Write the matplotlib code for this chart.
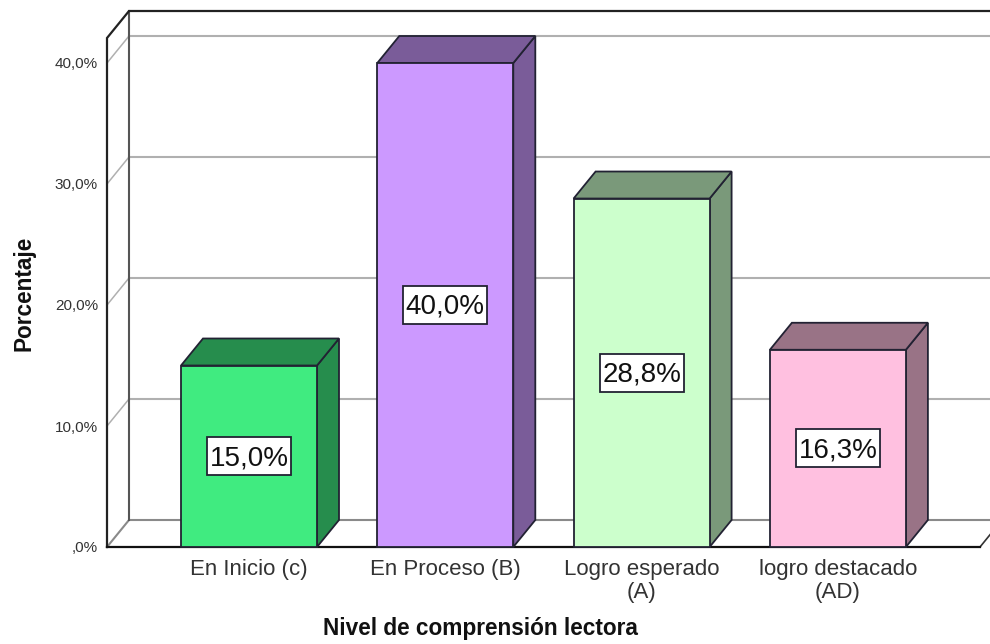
import matplotlib
matplotlib.use("Agg")
import matplotlib.pyplot as plt
from matplotlib.patches import Polygon, Rectangle

plt.rcParams['font.family'] = ['Liberation Sans', 'DejaVu Sans']

categories = ["En Inicio (c)", "En Proceso (B)", "Logro esperado\n(A)", "logro destacado\n(AD)"]
values = [15.0, 40.0, 28.8, 16.3]
value_labels = ["15,0%", "40,0%", "28,8%", "16,3%"]
y_ticks = [0, 10, 20, 30, 40]
y_tick_labels = [",0%", "10,0%", "20,0%", "30,0%", "40,0%"]
front_colors = ["#40EB80", "#CC99FF", "#CCFFCC", "#FFC0E0"]
side_colors = ["#268D4D", "#7A5C99", "#7A997A", "#997386"]

W, H = 990, 644
fig = plt.figure(figsize=(W / 100, H / 100), dpi=100, facecolor="white")
L, B, T = 107, 547, 38
ax = fig.add_axes([L / W, (H - B) / H, (W - L) / W, (B - T) / H])

STEP = 196.3
PX_PER_PCT = 12.1
ax.set_xlim((L - 249) / STEP, (W - 249) / STEP)
ax.set_ylim(0, (B - T) / PX_PER_PCT)
x0, x1 = ax.get_xlim()
y1 = ax.get_ylim()[1]
DX = 22 / STEP
DY = 27 / PX_PER_PCT
BAR_W = 136 / STEP
X_END = (980 - 249) / STEP
BOX_W = 84 / STEP
BOX_H = 38 / PX_PER_PCT

for s in ax.spines.values():
    s.set_visible(False)
ax.patch.set_alpha(0)

GRID = "#B0B0B0"
# back wall gridlines and left wall diagonals
for t in y_ticks[1:]:
    ax.plot([x0 + DX, x1], [t + DY, t + DY], color=GRID, lw=1.5, zorder=1, clip_on=False)
    ax.plot([x0, x0 + DX], [t, t + DY], color=GRID, lw=1.1, zorder=1, clip_on=False)
# floor and back wall frame
ax.plot([x0, x0 + DX, x1], [0, DY, DY], color="#8A8A8A", lw=1.5, zorder=1.5, clip_on=False)
ax.plot([x0 + DX, x0 + DX], [DY, y1 + DY], color="#555555", lw=1.5, zorder=1.5, clip_on=False)
ax.plot([X_END, X_END + DX], [0, DY], color="#333333", lw=1.2, zorder=1.5, clip_on=False)
# outer frame
ax.plot([x0, x0, x0 + DX, x1], [0, y1, y1 + DY, y1 + DY], color="#222222", lw=1.6, zorder=2,
        clip_on=False, solid_joinstyle="miter")
ax.plot([x0, X_END], [0, 0], color="#111111", lw=1.6, zorder=2, clip_on=False)

# bars
xs = list(range(len(values)))
ax.bar(xs, values, width=BAR_W, color=front_colors, edgecolor="#222233", linewidth=1.3, zorder=4,
       clip_on=False)
for x, v, c in zip(xs, values, side_colors):
    l, r = x - BAR_W / 2, x + BAR_W / 2
    ax.add_patch(Polygon([(r, 0), (r + DX, DY), (r + DX, v + DY), (r, v)], closed=True, fc=c,
                         ec="#222233", lw=1.3, zorder=3, clip_on=False))
    ax.add_patch(Polygon([(l, v), (l + DX, v + DY), (r + DX, v + DY), (r, v)], closed=True, fc=c,
                         ec="#222233", lw=1.3, zorder=3, clip_on=False))

for x, v, lab in zip(xs, values, value_labels):
    ax.add_patch(Rectangle((x - BOX_W / 2, v / 2 - BOX_H / 2), BOX_W, BOX_H, fc="white",
                           ec="#222233", lw=1.3, zorder=5))
    ax.text(x, v / 2 - 2 / PX_PER_PCT, lab, ha="center", va="center", fontsize=20,
            color="#111111", zorder=6)

ax.set_xticks(xs, categories)
ax.set_yticks(y_ticks, y_tick_labels)
ax.tick_params(axis="x", length=0, pad=9, labelsize=16, labelcolor="#333333")
ax.tick_params(axis="y", length=0, pad=6.5, labelsize=11, labelcolor="#333333")
for tl in ax.get_xticklabels():
    tl.set_linespacing(1.1)
for tl in ax.get_yticklabels():
    tl.set_y(tl.get_position()[1])

fig.text(480 / W, 1 - 628 / H, "Nivel de comprensión lectora", ha="center", va="center",
         fontsize=16.3, fontweight="bold", color="#111111")
fig.text(24 / W, 1 - 293 / H, "Porcentaje", ha="center", va="center", rotation=90,
         fontsize=16.3, fontweight="bold", color="#111111")

fig.savefig("out.png", dpi=100, facecolor="white")
